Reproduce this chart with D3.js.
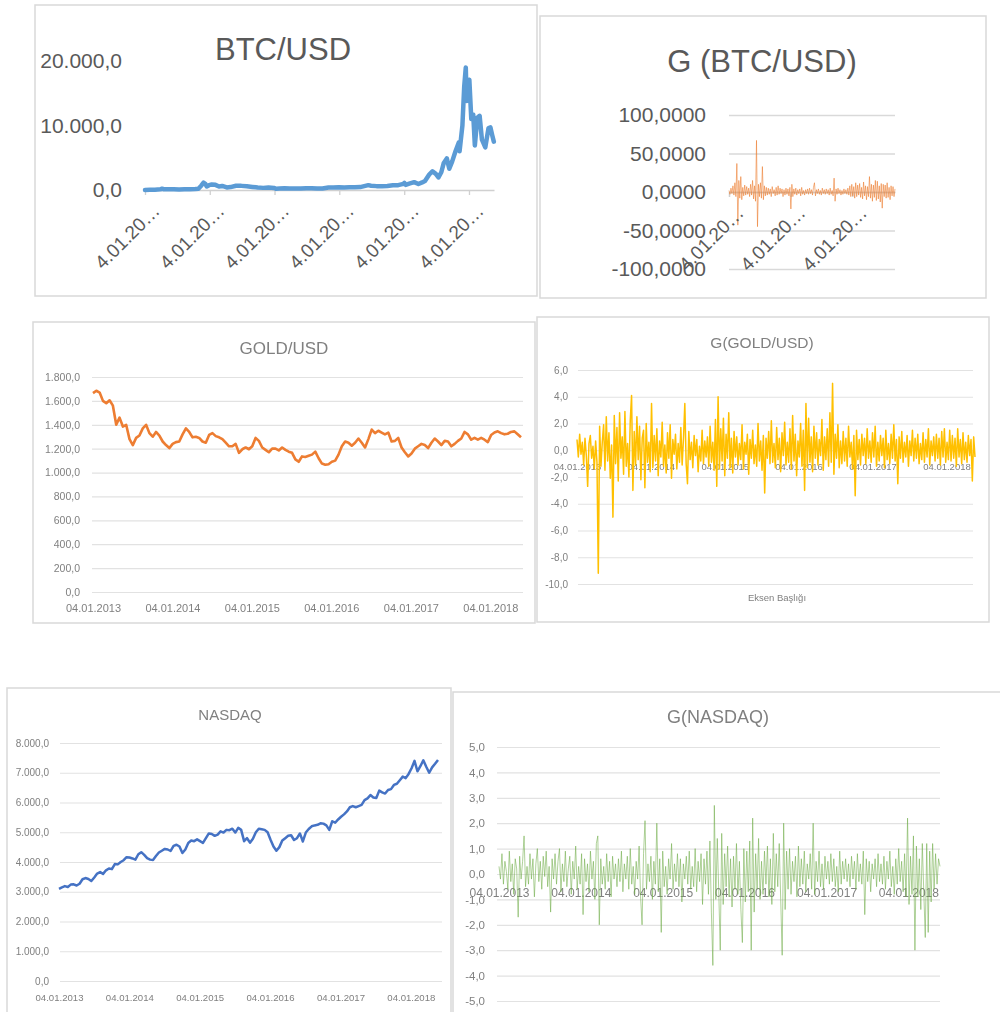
<!DOCTYPE html>
<html>
<head>
<meta charset="utf-8">
<script src="https://cdn.jsdelivr.net/npm/d3@7"></script>
<style>
  body { margin: 0; background: #fff; }
  svg { display: block; font-family: "Liberation Sans", Arial, sans-serif; }
</style>
</head>
<body>
<div id="chart"></div>
<script>
// ---- data ----
const yearTickDates = ["2013-01-04", "2014-01-04", "2015-01-04", "2016-01-04", "2017-01-04", "2018-01-04"];
const gBtcTickDates = ["2013-01-04", "2015-01-04", "2017-01-04"];

const btcDates = ["2013-01-04","2013-02-01","2013-03-01","2013-04-01","2013-04-10","2013-04-20","2013-05-15","2013-06-15","2013-07-15","2013-08-15","2013-09-15","2013-10-15","2013-11-01","2013-11-18","2013-11-30","2013-12-10","2013-12-18","2013-12-31",
  "2014-01-15","2014-02-05","2014-02-25","2014-03-15","2014-04-10","2014-05-01","2014-06-01","2014-07-01","2014-08-01","2014-09-01","2014-10-01","2014-11-01","2014-12-01",
  "2015-01-01","2015-01-14","2015-02-01","2015-03-01","2015-04-01","2015-05-01","2015-06-01","2015-07-01","2015-08-01","2015-09-01","2015-10-01","2015-11-04","2015-12-01",
  "2016-01-01","2016-02-01","2016-03-01","2016-04-01","2016-05-01","2016-06-16","2016-07-01","2016-08-01","2016-09-01","2016-10-01","2016-11-01","2016-12-01","2016-12-31",
  "2017-01-05","2017-01-12","2017-02-01","2017-03-01","2017-03-25","2017-04-15","2017-05-01","2017-05-25","2017-06-12","2017-07-01","2017-07-16","2017-08-01","2017-08-15","2017-09-01","2017-09-15","2017-10-01","2017-10-20","2017-11-08","2017-11-12","2017-11-28","2017-12-08","2017-12-17","2017-12-22",
  "2018-01-06","2018-01-17","2018-01-28","2018-02-06","2018-02-20","2018-03-05","2018-03-18","2018-04-06","2018-04-24","2018-05-05","2018-05-15","2018-05-24"];
const btcClose = [13,20,34,100,200,120,115,100,95,110,130,150,200,700,1130,950,550,750,
  850,800,550,630,400,450,650,640,590,480,380,330,380,
  315,180,225,260,245,235,225,260,280,230,240,400,370,
  430,370,430,415,450,750,670,600,575,615,730,750,960,
  1100,800,990,1220,930,1180,1400,2400,2900,2500,1950,2750,4200,4900,3300,4400,6000,7400,6000,10000,16000,19000,13800,
  17100,11000,11700,6900,11200,11500,7800,6600,9600,9700,8500,7500];
const btcTicks = [0, 10000, 20000];

const gBtc = [2,-3,5,-2,8,-4,12,-6,37,-43,15,-8,20,-10,6,-5,9,-4,7,-3,
  5,-6,10,-4,15,-9,8,-12,67,-45,10,-6,12,-8,33,-10,8,-5,6,-4,
  5,-3,4,-6,7,-2,3,-5,6,-4,8,-3,5,-2,4,-6,3,-4,5,-3,
  4,-5,6,-22,10,-6,4,-3,5,-4,3,-2,4,-5,6,-3,2,-4,3,-2,
  4,-3,5,-2,3,-4,6,12,-5,3,-2,4,-3,2,-4,5,-2,3,-3,4,
  -2,3,-4,5,-3,2,-5,18,-12,4,-3,5,-2,3,-4,2,-3,4,-2,3,
  -3,5,-4,8,-6,10,-5,7,-8,12,-6,9,-4,11,-7,6,-9,13,-5,8,
  -10,7,-6,20,-8,10,-12,9,-7,15,-11,14,-9,8,-13,11,-21,10,-6,9,
  -8,12,-7,6,-10,8,-5,7,-6,4];
const gBtcTicks = [-100, -50, 0, 50, 100];

// semi-monthly closes, 2013-01 .. 2018-05
const goldClose = [1665,1685,1670,1600,1580,1605,1560,1400,1460,1385,1400,1280,1230,1290,1310,1370,1400,1330,1300,1340,1310,1260,1230,1205,
  1240,1255,1260,1320,1370,1340,1295,1300,1290,1260,1250,1315,1330,1305,1295,1280,1250,1220,1220,1240,1165,1195,1210,1195,
  1220,1290,1265,1210,1190,1170,1200,1200,1185,1210,1190,1175,1165,1110,1090,1135,1130,1140,1150,1175,1120,1075,1065,1070,
  1090,1100,1150,1220,1260,1250,1225,1250,1285,1250,1210,1280,1360,1330,1350,1335,1320,1335,1260,1265,1290,1210,1170,1135,
  1160,1200,1220,1240,1230,1205,1250,1285,1260,1230,1265,1260,1220,1240,1265,1285,1340,1320,1275,1290,1275,1290,1275,1255,
  1315,1335,1345,1330,1320,1325,1340,1345,1320,1295];
const goldTicks = [0, 200, 400, 600, 800, 1000, 1200, 1400, 1600, 1800];

const gGold = [0.8,-0.5,1.2,-0.3,0.6,-1.1,0.9,-0.4,-2.7,0.5,1.1,-0.6,0.3,-1.4,0.7,-0.9,-9.2,1.8,-1.2,0.6,
  1.9,-1.5,2.5,-0.8,1.3,-2.1,0.4,-5.0,2.6,-1.0,1.7,-2.3,2.8,-0.6,1.0,-1.8,2.9,-1.2,0.5,-2.0,
  2.2,4.1,-3.0,1.4,-1.1,2.5,-0.7,1.8,-2.2,0.9,1.5,-2.8,2.0,-0.9,0.6,-1.6,3.5,-1.3,1.1,-0.8,
  1.6,-1.9,0.7,-0.5,2.1,-1.2,0.4,-1.7,1.3,-0.6,1.9,-2.1,0.8,-0.3,1.2,-1.4,0.5,-0.9,1.7,-1.1,
  0.9,3.5,-1.0,-2.5,1.4,-0.7,0.6,-1.3,1.1,-0.4,0.8,-1.6,0.3,-0.8,1.5,-1.0,0.7,-0.5,1.0,-1.2,
  1.8,-0.9,0.6,-1.5,2.3,-2.7,4.0,-1.4,1.6,-0.8,2.4,-1.9,1.2,-0.6,2.8,-1.3,0.9,-1.7,1.4,-0.5,
  1.0,-1.1,0.5,-0.7,1.9,-1.4,0.6,-0.3,1.2,-1.8,0.8,-0.6,1.5,-1.0,0.4,-1.2,2.0,-0.8,0.7,-1.5,
  1.1,-3.2,0.9,-0.6,1.4,-1.0,2.2,-0.9,0.5,-1.3,1.7,-0.7,0.9,-1.6,1.3,-0.4,2.1,-1.1,0.6,-0.9,
  1.6,-1.4,2.6,-0.8,1.2,-1.9,0.7,-0.5,2.0,-1.2,1.5,-3.0,3.5,-1.3,2.4,-0.9,1.0,-1.6,1.8,-0.6,
  1.3,-1.1,0.8,-0.4,2.3,-1.5,1.0,-0.7,1.6,-1.2,2.8,-0.9,5.0,-1.8,1.2,-0.6,1.9,-1.3,0.7,-1.0,
  1.4,-0.8,0.9,-1.2,1.8,-0.5,0.6,-1.4,1.1,-3.4,1.5,-0.7,0.8,-1.1,1.2,-0.4,0.9,-1.0,1.6,-0.6,
  0.7,-0.9,1.3,-0.5,1.8,-1.2,0.6,-0.8,1.1,-0.4,0.9,-1.3,1.5,-0.7,0.5,-1.0,1.2,-0.6,1.9,-0.8,
  0.8,-2.5,1.0,-0.6,1.4,-0.9,0.6,-0.5,1.1,-1.2,0.7,-0.4,1.5,-0.8,0.9,-0.6,1.2,-1.0,0.5,-0.7,
  1.3,-0.9,0.8,-0.5,1.6,-1.1,0.7,-0.4,1.0,-0.8,1.2,-0.6,0.9,-1.1,1.4,-0.5,1.6,-0.9,0.6,-0.7,
  1.5,-0.8,1.1,-0.6,0.9,-1.2,1.6,-0.5,0.8,-1.0,1.3,-0.7,0.6,-0.9,1.1,-0.4,0.8,-2.3,1.0,-0.5];
const gGoldTicks = [-10, -8, -6, -4, -2, 0, 2, 4, 6];

const nasdaqClose = [3100,3150,3190,3160,3240,3250,3210,3270,3420,3460,3430,3360,3480,3610,3660,3600,3720,3780,3760,3930,3920,4000,4060,4160,
  4150,4120,4080,4260,4330,4240,4130,4080,4070,4200,4320,4380,4440,4420,4370,4540,4580,4520,4300,4420,4640,4720,4700,4760,
  4700,4640,4800,4960,4940,4880,4920,5030,4990,5080,5070,5120,4990,5150,5080,4700,4800,4650,4780,5000,5120,5100,5080,5000,
  4750,4520,4380,4500,4720,4800,4880,4900,4740,4800,4960,4690,4990,5110,5200,5230,5250,5300,5290,5230,5080,5370,5320,5430,
  5520,5600,5700,5840,5880,5840,5880,5920,6080,6140,6250,6170,6150,6400,6340,6300,6420,6450,6590,6630,6750,6870,6820,6960,
  7150,7400,7050,7220,7420,7200,7000,7180,7300,7430];
const nasdaqTicks = [0, 1000, 2000, 3000, 4000, 5000, 6000, 7000, 8000];

const gNasdaq = [0.3,-0.2,0.8,-0.4,0.5,0.1,-0.6,0.9,-0.3,0.4,-0.8,0.6,0.2,-1.7,0.7,-0.2,0.5,1.5,-0.5,0.3,
  -0.4,0.8,-0.2,0.6,-0.9,0.4,1.0,-0.3,0.5,-0.6,0.7,-0.1,0.9,-0.5,0.3,-1.5,0.6,-0.2,0.8,-0.4,
  0.5,1.0,-0.7,0.4,-0.3,0.9,-0.5,0.2,0.7,-0.8,0.5,-0.2,1.1,-0.6,0.3,-0.4,0.8,-1.6,0.6,-0.3,
  0.4,-0.7,0.9,-0.2,0.5,-1.0,1.2,1.5,-2.0,0.6,-0.4,0.3,-0.6,0.8,-0.3,0.5,-0.9,0.7,-0.2,0.4,
  -0.5,0.6,-0.3,0.9,-0.7,0.4,-0.2,0.7,-0.6,1.0,-0.4,0.3,-0.8,0.5,-0.2,1.1,-0.9,-2.0,0.8,2.1,
  -0.6,0.4,-0.3,0.7,-1.0,0.5,-0.4,2.0,-0.7,0.6,-2.3,0.9,-0.5,0.3,-0.8,0.6,-0.2,1.2,-0.6,0.4,
  -0.3,0.8,-0.5,0.6,-1.1,0.4,-0.2,0.7,-0.4,0.9,-0.6,0.3,-0.5,1.0,-0.7,0.5,-0.3,0.8,-1.2,0.6,
  -0.4,0.9,-0.8,1.3,-1.5,-3.6,2.7,-1.0,1.4,-0.7,-3.0,1.6,-1.2,0.8,-0.5,1.1,-0.9,0.6,-1.3,0.7,
  -0.6,1.2,-0.8,0.5,-1.4,-2.7,1.0,-1.1,0.9,-0.7,1.3,-3.0,2.2,-1.5,0.8,-0.6,1.4,-1.0,0.5,-0.8,
  0.9,-0.4,1.1,-0.9,0.6,-1.2,1.6,-0.7,0.8,-0.5,1.2,-1.0,-3.2,2.0,-1.4,0.9,-0.6,1.0,-0.8,0.5,
  -0.3,0.7,-0.9,1.1,-0.5,0.6,-0.4,0.9,-0.7,0.4,-0.2,0.8,-0.6,2.0,-0.8,0.5,-0.3,0.9,-0.5,0.4,
  -0.6,0.7,-0.2,0.5,-0.4,0.8,-0.3,0.6,-0.5,0.3,-0.7,0.9,-0.4,0.5,-0.2,0.6,-0.3,0.4,-0.5,0.7,
  -0.2,0.5,-0.6,0.8,-0.3,0.4,-0.4,0.9,-1.6,0.6,-0.3,0.5,-0.7,0.4,-0.2,0.6,-0.5,0.8,-0.3,0.4,
  -0.4,0.7,-0.6,0.5,-0.2,0.9,-0.5,0.3,-0.8,0.6,-0.4,1.0,-0.3,0.5,-0.7,0.8,-0.9,2.2,-1.2,0.7,
  -0.8,1.5,-3.0,1.1,-0.9,0.6,-1.4,1.2,-0.7,-2.5,1.2,-2.3,0.9,-1.1,1.2,-0.6,0.8,-0.4,0.6,0.3];
const gNasdaqTicks = [-5, -4, -3, -2, -1, 0, 1, 2, 3, 4, 5];

// ---- setup ----
const trLocale = d3.formatLocale({decimal: ",", thousands: ".", grouping: [3], currency: ["", ""], minus: "-"});
const fmt1 = trLocale.format(",.1f");
const fmt4 = trLocale.format(".4f");
const parseDay = d3.timeParse("%Y-%m-%d");
const startDate = parseDay("2013-01-04");
const endDate = parseDay("2018-05-25");
const yearTicks = yearTickDates.map(parseDay);
const dayFmt = d3.timeFormat("%d.%m.%Y");
const shortDate = d => d3.timeFormat("%-d.%m.%Y")(d).slice(0, 7) + "\u2026";

const svg = d3.select("#chart").append("svg")
    .attr("width", 1000)
    .attr("height", 1012);

svg.append("rect").attr("width", 1000).attr("height", 1012).attr("fill", "#fff");
svg.append("defs").append("filter").attr("id", "soft")
    .append("feGaussianBlur").attr("stdDeviation", 0.45);

function frame(g, x0, y0, x1, y1) {
  g.append("rect")
    .attr("x", x0).attr("y", y0)
    .attr("width", x1 - x0).attr("height", y1 - y0)
    .attr("fill", "#fff")
    .attr("stroke", "#d9d9d9")
    .attr("stroke-width", 1.5);
}

function styleAxisText(g, size, color) {
  g.select(".domain").remove();
  g.selectAll("text").attr("font-size", size).attr("fill", color).attr("font-family", null);
}

// ---- BTC/USD ----
const p1 = svg.append("g");
frame(p1, 35, 5, 537, 296);
const x1s = d3.scaleTime().domain([startDate, endDate]).range([145, 494]);
const y1s = d3.scaleLinear().domain([0, 20000]).range([190, 61]);

p1.append("text").attr("x", 283).attr("y", 60).attr("text-anchor", "middle")
    .attr("font-size", 31).attr("fill", "#595959").text("BTC/USD");

p1.append("g").attr("transform", "translate(145,0)")
    .call(d3.axisLeft(y1s).tickValues(btcTicks).tickFormat(fmt1).tickSize(0).tickPadding(23))
    .call(g => styleAxisText(g, 21, "#595959"));

p1.append("g").attr("transform", "translate(0,190)")
    .call(d3.axisBottom(x1s).tickValues(yearTicks).tickFormat("").tickSize(5).tickSizeOuter(0))
    .call(g => g.selectAll("line, path").attr("stroke", "#d0d0d0").attr("stroke-width", 1.3));

p1.append("g").selectAll("text").data(yearTicks).join("text")
    .attr("transform", d => `translate(${x1s(d) + 16},${190 + 22}) rotate(-45)`)
    .attr("text-anchor", "end").attr("font-size", 19).attr("fill", "#595959")
    .text(shortDate);

const btcSeries = btcDates.map((d, i) => ({date: parseDay(d), value: btcClose[i]}));
p1.append("path").datum(btcSeries)
    .attr("fill", "none").attr("stroke", "#5B9BD5").attr("stroke-width", 4.5)
    .attr("stroke-linejoin", "round").attr("stroke-linecap", "round")
    .attr("d", d3.line().x(d => x1s(d.date)).y(d => y1s(d.value)));

// ---- G (BTC/USD) ----
const p2 = svg.append("g");
frame(p2, 540, 16, 986, 298);
const x2s = d3.scaleTime().domain([startDate, endDate]).range([729, 895]);
const x2i = d3.scaleLinear().domain([0, gBtc.length - 1]).range([729, 895]);
const y2s = d3.scaleLinear().domain([-100, 100]).range([269, 115]);

p2.append("text").attr("x", 762).attr("y", 72).attr("text-anchor", "middle")
    .attr("font-size", 31).attr("fill", "#595959").text("G (BTC/USD)");

p2.append("g").attr("transform", "translate(729,0)")
    .call(d3.axisLeft(y2s).tickValues(gBtcTicks).tickFormat(fmt4).tickSize(-(895 - 729)).tickPadding(23))
    .call(g => styleAxisText(g, 21, "#595959"))
    .call(g => g.selectAll("line").attr("stroke", "#d9d9d9").attr("stroke-width", 1.3));

p2.append("g").attr("transform", `translate(0,${y2s(0)})`)
    .call(d3.axisBottom(x2s).tickValues(gBtcTickDates.map(parseDay)).tickFormat("").tickSize(5).tickSizeOuter(0))
    .call(g => g.selectAll("line, path").attr("stroke", "#cfcfcf").attr("stroke-width", 1.5));

p2.append("path").datum(gBtc)
    .attr("fill", "none").attr("stroke", "#ED7D31").attr("stroke-width", 0.8).attr("stroke-opacity", 0.75)
    .attr("d", d3.line().x((d, i) => x2i(i)).y(d => y2s(d)));

p2.append("g").selectAll("text").data(gBtcTickDates.map(parseDay)).join("text")
    .attr("transform", d => `translate(${x2s(d) + 16},${y2s(0) + 22}) rotate(-45)`)
    .attr("text-anchor", "end").attr("font-size", 19).attr("fill", "#595959")
    .text(shortDate);

// ---- the four smaller Excel panels ----
function excelPanel(cfg) {
  const g = svg.append("g").attr("filter", "url(#soft)");
  frame(g, cfg.box[0], cfg.box[1], cfg.box[2], cfg.box[3]);
  const x = d3.scaleTime().domain([startDate, endDate]).range(cfg.xRange);
  const xi = d3.scaleLinear().domain([0, cfg.values.length - 1]).range(cfg.xRange);
  const y = d3.scaleLinear().domain(cfg.yDomain).range(cfg.yRange);
  const textColor = "#808080";

  g.append("text").attr("x", cfg.title[1]).attr("y", cfg.title[2]).attr("text-anchor", "middle")
      .attr("font-size", cfg.title[3]).attr("fill", textColor).text(cfg.title[0]);

  g.append("g").attr("transform", `translate(${cfg.gridX[0]},0)`)
      .call(d3.axisLeft(y).tickValues(cfg.yTicks).tickFormat(fmt1)
          .tickSize(-(cfg.gridX[1] - cfg.gridX[0])).tickPadding(cfg.gridX[0] - cfg.labelX))
      .call(a => styleAxisText(a, cfg.yFont, textColor))
      .call(a => a.selectAll("line").attr("stroke", "#e2e2e2").attr("stroke-width", 1.2));

  g.append("g").attr("transform", `translate(0,${y(0)})`)
      .call(d3.axisBottom(x).tickValues(yearTicks).tickFormat(dayFmt).tickSize(0).tickPadding(cfg.xPad))
      .call(a => styleAxisText(a, cfg.xFont, textColor));

  if (cfg.axisTitle) {
    g.append("text").attr("x", cfg.axisTitle[1]).attr("y", cfg.axisTitle[2]).attr("text-anchor", "middle")
        .attr("font-size", cfg.axisTitle[3]).attr("fill", textColor).text(cfg.axisTitle[0]);
  }

  g.append("path").datum(cfg.values)
      .attr("fill", "none").attr("stroke", cfg.color).attr("stroke-width", cfg.width)
      .attr("stroke-opacity", cfg.opacity).attr("stroke-linejoin", "round")
      .attr("d", d3.line().x((d, i) => xi(i)).y(d => y(d)));
}

excelPanel({
  box: [33, 322, 535, 623], title: ["GOLD/USD", 284, 354, 17],
  values: goldClose, color: "#ED7D31", width: 2.6, opacity: 1,
  xRange: [93, 521], yDomain: [0, 1800], yRange: [592, 377], yTicks: goldTicks,
  gridX: [92, 523], labelX: 80, yFont: 10.5, xFont: 11, xPad: 12
});

excelPanel({
  box: [537, 317, 989, 622], title: ["G(GOLD/USD)", 762, 348, 15.5],
  values: gGold, color: "#FFC000", width: 1.5, opacity: 1,
  xRange: [577, 975], yDomain: [-10, 6], yRange: [584, 370], yTicks: gGoldTicks,
  gridX: [578, 973], labelX: 568, yFont: 10, xFont: 9.5, xPad: 13,
  axisTitle: ["Eksen Başlığı", 777, 601, 9.5]
});

excelPanel({
  box: [7, 688, 451, 1030], title: ["NASDAQ", 230, 720, 15],
  values: nasdaqClose, color: "#4472C4", width: 2.5, opacity: 1,
  xRange: [59, 438], yDomain: [0, 8000], yRange: [981, 743], yTicks: nasdaqTicks,
  gridX: [60, 442], labelX: 49, yFont: 10, xFont: 9.6, xPad: 13
});

excelPanel({
  box: [453, 692, 1010, 1030], title: ["G(NASDAQ)", 718, 723, 18],
  values: gNasdaq, color: "#70AD47", width: 0.8, opacity: 0.7,
  xRange: [499, 940], yDomain: [-5, 5], yRange: [1001, 747], yTicks: gNasdaqTicks,
  gridX: [497, 940], labelX: 485, yFont: 11.5, xFont: 12, xPad: 14
});
</script>
</body>
</html>
